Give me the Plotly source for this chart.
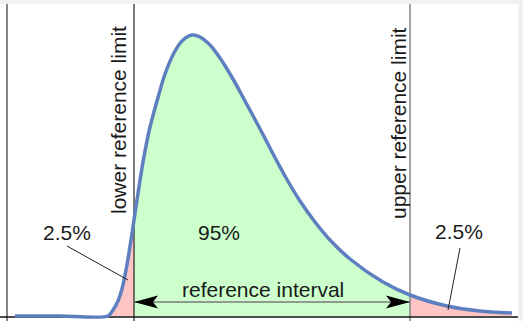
import plotly.graph_objects as go

# Density curve (x position, height above baseline)
curve_x = [15, 60, 108, 113, 118, 122, 128, 134, 137, 143, 150, 157, 165, 175, 183, 192, 200, 210,
           220, 233, 245, 258, 270, 285, 300, 315, 330, 350, 383, 410, 447, 480, 512]
curve_y = [0, 0, 0, 6, 15, 27, 57, 96, 116, 154, 189, 215, 242, 265, 276, 281, 279, 271,
           258, 237, 215, 191, 168, 140, 115, 94, 76, 57, 34, 21, 10, 5, 3]

lower_limit = 134
upper_limit = 410
left_frame = 7
top_value = 312

labels_pct = ["2.5%", "95%", "2.5%"]

FONT = "Liberation Sans, Arial, sans-serif"
GREEN = "#ccffcc"
PINK = "#ffc4c4"
CURVE = "#5e7fbf"

def segment(lo, hi):
    xs = [x for x in curve_x if lo <= x <= hi]
    ys = [y for x, y in zip(curve_x, curve_y) if lo <= x <= hi]
    return xs, ys

fig = go.Figure()
for (lo, hi), col in [((-1e9, lower_limit), PINK), ((lower_limit, upper_limit), GREEN),
                      ((upper_limit, 1e9), PINK)]:
    xs, ys = segment(lo, hi)
    fig.add_trace(go.Scatter(x=xs, y=ys, mode="lines", line=dict(width=0, shape="spline", smoothing=0.8),
                             fill="tozeroy", fillcolor=col, hoverinfo="skip"))

# reference lines (drawn under the curve)
fig.add_trace(go.Scatter(x=[left_frame, left_frame], y=[-6, top_value], mode="lines",
                         line=dict(color="#333333", width=1.2)))
fig.add_trace(go.Scatter(x=[lower_limit, lower_limit], y=[-6, top_value], mode="lines",
                         line=dict(color="#222222", width=1.2)))
fig.add_trace(go.Scatter(x=[upper_limit, upper_limit], y=[-6, top_value], mode="lines",
                         line=dict(color="#8a8a8a", width=1.6)))
fig.add_trace(go.Scatter(x=[0, 518], y=[-1, -1], mode="lines",
                         line=dict(color="#111111", width=1.3)))

# interval arrow shaft
arrow_h = 14
fig.add_trace(go.Scatter(x=[lower_limit, upper_limit], y=[arrow_h, arrow_h], mode="lines",
                         line=dict(color="#7a7a7a", width=1.5)))

# density outline
fig.add_trace(go.Scatter(x=curve_x, y=curve_y, mode="lines",
                         line=dict(color=CURVE, width=3.5, shape="spline", smoothing=0.8)))

shapes = []
L, W, N = 24, 6.5, 5
shapes.append(dict(type="path", xref="x", yref="y", fillcolor="black", line=dict(width=0),
                   path=f"M{lower_limit},{arrow_h} L{lower_limit+L},{arrow_h+W} L{lower_limit+L-N},{arrow_h} L{lower_limit+L},{arrow_h-W} Z"))
shapes.append(dict(type="path", xref="x", yref="y", fillcolor="black", line=dict(width=0),
                   path=f"M{upper_limit},{arrow_h} L{upper_limit-L},{arrow_h+W} L{upper_limit-L+N},{arrow_h} L{upper_limit-L},{arrow_h-W} Z"))
# pointer lines
shapes.append(dict(type="line", xref="x", yref="y", x0=67, y0=70, x1=128, y1=36,
                   line=dict(color="#222222", width=1)))
shapes.append(dict(type="line", xref="x", yref="y", x0=460, y0=68, x1=448, y1=6,
                   line=dict(color="#222222", width=1)))
# outside grey border
shapes.insert(0, dict(type="rect", xref="paper", yref="paper", x0=0, x1=518/523, y0=0, y1=317/321,
                      fillcolor="white", line=dict(width=0), layer="below"))

annotations = [
    dict(x=118, y=196, text="lower reference limit", textangle=-90),
    dict(x=398, y=193, text="upper reference limit", textangle=-90),
    dict(x=67, y=84, text=labels_pct[0]),
    dict(x=219, y=84, text=labels_pct[1]),
    dict(x=459, y=85, text=labels_pct[2]),
    dict(x=263, y=27, text="reference interval"),
]
for a in annotations:
    a.update(xref="x", yref="y", showarrow=False, font=dict(family=FONT, size=21, color="#1a1a1a"))

fig.update_layout(
    width=523, height=321, margin=dict(l=0, r=0, t=0, b=0),
    paper_bgcolor="#f1f1f1", plot_bgcolor="rgba(0,0,0,0)",
    showlegend=False, shapes=shapes, annotations=annotations,
    xaxis=dict(range=[0, 523], visible=False, fixedrange=True),
    yaxis=dict(range=[-5, 316], visible=False, fixedrange=True),
)
fig.write_html("out.html", config={"displayModeBar": False})
